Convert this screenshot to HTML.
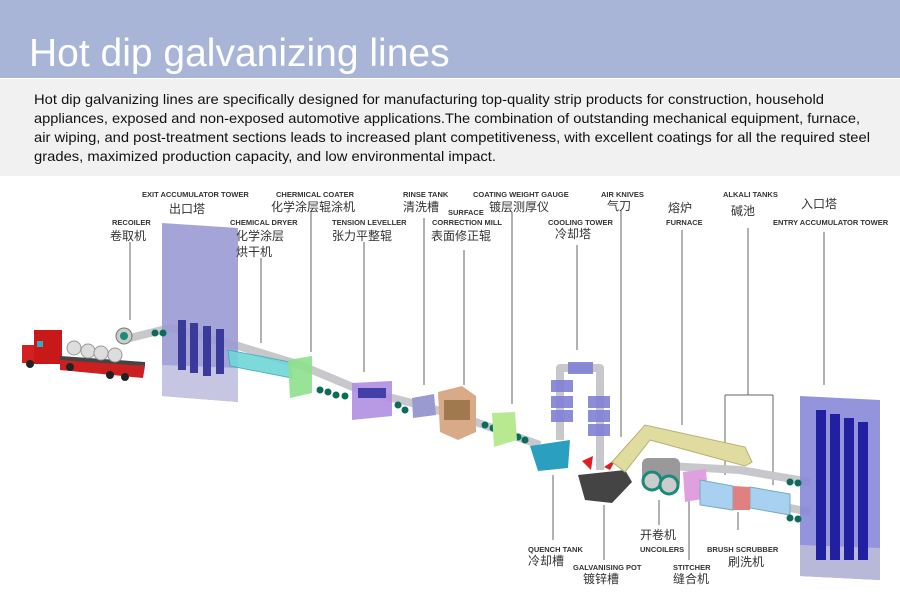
<!DOCTYPE html>
<html><head><meta charset="utf-8"><style>
body{margin:0;width:900px;height:600px;overflow:hidden;background:#fff;font-family:"Liberation Sans","Noto Sans CJK SC",sans-serif}
svg{position:absolute;left:0;top:0}
</style></head><body>
<svg width="900" height="600" viewBox="0 0 900 600" xmlns="http://www.w3.org/2000/svg" font-family="Liberation Sans, Noto Sans CJK SC, sans-serif">
<rect x="0" y="0" width="900" height="78" fill="#a8b5d6"/>
<text x="29" y="66" font-size="39" fill="#fff">Hot dip galvanizing lines</text>
<rect x="0" y="79" width="900" height="97" fill="#f1f1f1"/>
<g font-size="14" fill="#111">
<text x="34" y="104" textLength="790" lengthAdjust="spacingAndGlyphs">Hot dip galvanizing lines are specifically designed for manufacturing top-quality strip products for construction, household</text>
<text x="34" y="123" textLength="826" lengthAdjust="spacingAndGlyphs">appliances, exposed and non-exposed automotive applications.The combination of outstanding mechanical equipment, furnace,</text>
<text x="34" y="142" textLength="836" lengthAdjust="spacingAndGlyphs">air wiping, and post-treatment sections leads to increased plant competitiveness, with excellent coatings for all the required steel</text>
<text x="34" y="161" textLength="462" lengthAdjust="spacingAndGlyphs">grades, maximized production capacity, and low environmental impact.</text>
</g>

<!-- leader lines -->
<g stroke="#666" stroke-width="1" fill="none">
<path d="M130 242V320M261 258V343M311 212V352M364 242V372M424 218V385M464 250V385M512 212V404M577 245V350M621 210V437M682 230V425M748 228V395M725 395H773M725 395V475M773 395V485M824 232V385M553 475V540M604 505V560M659 500V525M689 500V560M738 512V530"/>
</g>

<!-- strip path -->
<g stroke="#c8c8cc" stroke-width="8" fill="none" stroke-linejoin="round">
<path d="M130 338L170 328L235 345L300 365L360 390L420 405L470 420L540 445"/>
<path d="M560 440V368H600V470"/>
<path d="M650 465L740 470L810 482"/>
<path d="M700 490L810 512"/>
</g>

<!-- truck -->
<rect x="22" y="345" width="18" height="18" fill="#d42020"/>
<rect x="34" y="330" width="28" height="34" fill="#c81818"/>
<rect x="37" y="341" width="6" height="6" fill="#2ab0c0"/>
<polygon points="60,358 145,366 143,378 60,370" fill="#cc2020"/>
<polygon points="60,356 145,362 145,366 60,360" fill="#444"/>
<g fill="#ddd" stroke="#999"><circle cx="74" cy="348" r="7"/><circle cx="88" cy="351" r="7"/><circle cx="101" cy="353" r="7"/><circle cx="115" cy="355" r="7"/></g>
<g fill="#222"><circle cx="30" cy="364" r="4"/><circle cx="70" cy="367" r="4"/><circle cx="110" cy="375" r="4"/><circle cx="125" cy="377" r="4"/></g>
<circle cx="124" cy="336" r="8" fill="#ccc" stroke="#777"/><circle cx="124" cy="336" r="4" fill="#1a8a7a"/>

<!-- exit accumulator tower -->
<polygon points="162,223 238,228 238,402 162,396" fill="#9a9ad4" opacity="0.9"/>
<polygon points="162,365 238,368 238,402 162,396" fill="#c6c6e2"/>
<g fill="#3a3a9a"><rect x="178" y="320" width="8" height="50"/><rect x="190" y="323" width="8" height="50"/><rect x="203" y="326" width="8" height="50"/><rect x="216" y="329" width="8" height="45"/></g>
<polygon points="228,350 290,362 292,378 230,366" fill="#6fd6d6" stroke="#4ab" opacity="0.9"/>
<polygon points="288,360 312,356 312,393 290,398" fill="#8ee08e" opacity="0.9"/>
<g fill="#0c6b5a"><circle cx="320" cy="390" r="3.5"/><circle cx="328" cy="392" r="3.5"/><circle cx="336" cy="395" r="3.5"/><circle cx="345" cy="396" r="3.5"/><circle cx="398" cy="405" r="3.5"/><circle cx="405" cy="410" r="3.5"/><circle cx="485" cy="425" r="3.5"/><circle cx="493" cy="428" r="3.5"/><circle cx="518" cy="437" r="3.5"/><circle cx="525" cy="440" r="3.5"/><circle cx="155" cy="333" r="3.5"/><circle cx="163" cy="333" r="3.5"/></g>
<polygon points="352,383 392,381 392,416 352,420" fill="#b08ee0" opacity="0.9"/>
<rect x="358" y="388" width="28" height="10" fill="#4040a8"/>
<polygon points="412,398 434,394 436,415 413,418" fill="#9a9ad0"/>
<polygon points="438,392 462,386 476,396 476,432 458,440 440,432" fill="#d8aa88"/>
<rect x="444" y="400" width="26" height="20" fill="#7a5a2a" opacity="0.6"/>
<polygon points="492,413 515,412 517,440 494,447" fill="#b8e890"/>
<g fill="#8080d8" opacity="0.9"><rect x="551" y="380" width="22" height="12"/><rect x="551" y="396" width="22" height="12"/><rect x="551" y="410" width="22" height="12"/><rect x="588" y="396" width="22" height="12"/><rect x="588" y="410" width="22" height="12"/><rect x="588" y="424" width="22" height="12"/><rect x="568" y="362" width="25" height="12"/></g>
<polygon points="530,446 570,440 568,468 538,471" fill="#2a9fc0"/>
<polygon points="582,461 593,456 591,470" fill="#e02020"/><polygon points="604,467 616,459 610,470" fill="#e02020"/>
<polygon points="578,475 625,470 632,482 612,503 585,500" fill="#444"/>
<polygon points="612,462 645,425 745,447 752,462 745,466 650,440 625,472" fill="#e0dca0" stroke="#b8b070"/>
<rect x="642" y="458" width="38" height="30" rx="6" fill="#999"/>
<circle cx="652" cy="481" r="9" fill="#ccc" stroke="#1a8a7a" stroke-width="3"/><circle cx="669" cy="485" r="9" fill="#ccc" stroke="#1a8a7a" stroke-width="3"/>
<polygon points="683,472 706,469 708,498 685,502" fill="#e0a0e0"/>
<polygon points="700,480 733,486 733,510 700,505" fill="#a8d0f0" stroke="#7ab"/>
<polygon points="750,487 790,494 790,515 750,508" fill="#a8d0f0" stroke="#7ab"/>
<polygon points="733,486 750,487 750,510 733,510" fill="#e08080"/>
<!-- entry accumulator tower -->
<polygon points="800,396 880,400 880,580 800,576" fill="#8888d8" opacity="0.9"/>
<polygon points="800,545 880,548 880,580 800,576" fill="#b8b8d8"/>
<g fill="#2020a0"><rect x="816" y="410" width="10" height="150"/><rect x="830" y="414" width="10" height="146"/><rect x="844" y="418" width="10" height="142"/><rect x="858" y="422" width="10" height="138"/></g>
<g fill="#0c6b5a"><circle cx="790" cy="482" r="3.5"/><circle cx="798" cy="483" r="3.5"/><circle cx="790" cy="518" r="3.5"/><circle cx="798" cy="519" r="3.5"/></g>

<g font-size="7.5" font-weight="bold" fill="#333" font-family="Liberation Sans, sans-serif">
<text x="112" y="225">RECOILER</text>
<text x="142" y="197">EXIT ACCUMULATOR TOWER</text>
<text x="230" y="225">CHEMICAL DRYER</text>
<text x="276" y="197">CHERMICAL COATER</text>
<text x="332" y="225">TENSION LEVELLER</text>
<text x="403" y="197">RINSE TANK</text>
<text x="448" y="215">SURFACE</text>
<text x="432" y="225">CORRECTION MILL</text>
<text x="473" y="197">COATING WEIGHT GAUGE</text>
<text x="548" y="225">COOLING TOWER</text>
<text x="601" y="197">AIR KNIVES</text>
<text x="666" y="225">FURNACE</text>
<text x="723" y="197">ALKALI TANKS</text>
<text x="773" y="225">ENTRY ACCUMULATOR TOWER</text>
<text x="528" y="552">QUENCH TANK</text>
<text x="573" y="570">GALVANISING POT</text>
<text x="640" y="552">UNCOILERS</text>
<text x="673" y="570">STITCHER</text>
<text x="707" y="552">BRUSH SCRUBBER</text>
</g>
<g font-size="12" fill="#333" font-family="Noto Sans CJK SC, sans-serif">
<text x="110" y="240">卷取机</text>
<text x="169" y="213">出口塔</text>
<text x="236" y="240">化学涂层</text>
<text x="236" y="256">烘干机</text>
<text x="271" y="211">化学涂层辊涂机</text>
<text x="332" y="240">张力平整辊</text>
<text x="403" y="211">清洗槽</text>
<text x="431" y="240">表面修正辊</text>
<text x="489" y="211">镀层测厚仪</text>
<text x="555" y="238">冷却塔</text>
<text x="607" y="210">气刀</text>
<text x="668" y="212">熔炉</text>
<text x="731" y="215">碱池</text>
<text x="801" y="208">入口塔</text>
<text x="528" y="565">冷却槽</text>
<text x="583" y="583">镀锌槽</text>
<text x="640" y="539">开卷机</text>
<text x="673" y="583">缝合机</text>
<text x="728" y="566">刷洗机</text>
</g>
</svg>
</body></html>
